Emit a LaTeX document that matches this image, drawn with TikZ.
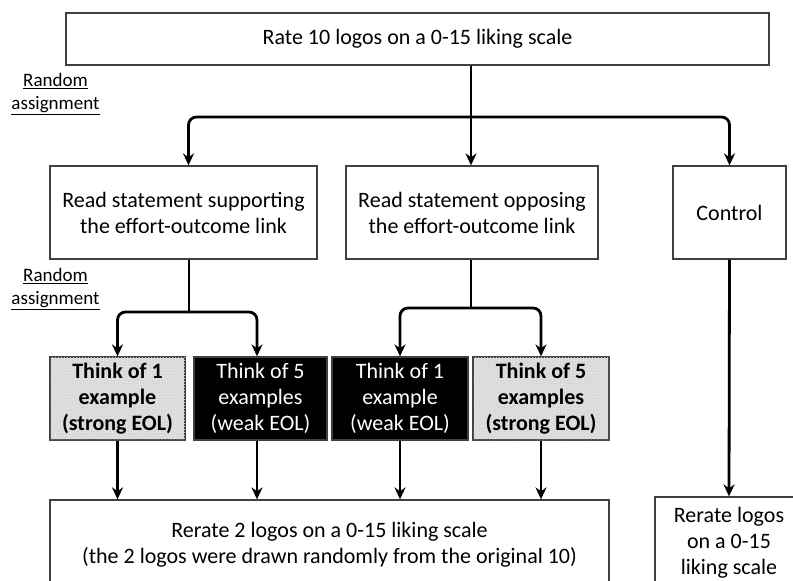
\documentclass[tikz,border=0pt]{standalone}
\usepackage{fontspec}
\setmainfont{Carlito}
\usetikzlibrary{arrows.meta,patterns}
\begin{document}
\begin{tikzpicture}[x=1pt,y=-1pt,
  box/.style={draw=black!75,line width=1.3pt,fill=white,inner sep=0pt,align=center,
    font=\fontsize{22}{26}\selectfont},
  graybox/.style={box,fill=gray!30,postaction={pattern=crosshatch dots,pattern color=white!85!gray},
    font=\fontsize{22}{26}\selectfont\bfseries},
  blackbox/.style={box,fill=black,text=white},
  arr/.style={line width=2.8pt,rounded corners=8pt,-{Stealth[length=12pt,width=11pt,inset=4pt]}},
  ln/.style={line width=2.8pt,rounded corners=8pt},
  rlabel/.style={align=center,font=\fontsize{19}{23}\selectfont,inner sep=0pt}]
\useasboundingbox (0,0) rectangle (793,581);
\clip (0,0) rectangle (793,581);
\fill[white] (0,0) rectangle (793,581);
% boxes
\node[box,minimum width=703,minimum height=52] (top) at (417.5,39) {Rate 10 logos on a 0-15 liking scale};
\node[box,minimum width=267,minimum height=93] (sup) at (183.5,212.5) {Read statement supporting\\the effort-outcome link};
\node[box,minimum width=252,minimum height=93] (opp) at (472,212.5) {Read statement opposing\\the effort-outcome link};
\node[box,minimum width=113,minimum height=93] (ctl) at (729.5,212.5) {Control};
\node[graybox,minimum width=135,minimum height=83] (t1) at (117.5,398.5) {Think of 1\\example\\(strong EOL)};
\node[blackbox,minimum width=133,minimum height=83] (t2) at (260.5,398.5) {Think of 5\\examples\\(weak EOL)};
\node[blackbox,minimum width=136,minimum height=83] (t3) at (400,398.5) {Think of 1\\example\\(weak EOL)};
\node[graybox,minimum width=136,minimum height=83] (t4) at (541,398.5) {Think of 5\\examples\\(strong EOL)};
\node[box,minimum width=559,minimum height=90] (bot) at (329.5,545) {Rerate 2 logos on a 0-15 liking scale\\(the 2 logos were drawn randomly from the original 10)};
\node[box,minimum width=148,minimum height=92] (bot2) at (729,543) {Rerate logos\\on a 0-15\\liking scale};
% labels
\node[rlabel] (ra1) at (55.5,94) {\underline{Random}\\\underline{assignment}};
\node[rlabel] (ra2) at (55.5,289) {\underline{Random}\\\underline{assignment}};
% connectors
\coordinate (h1) at (471,117);
\draw[arr] (top.south -| h1) -- (opp.north -| h1);
\draw[arr] (h1) -| ([xshift=5pt]sup.north);
\draw[arr] (h1) -| (ctl.north);
\coordinate (h2) at (189,312);
\draw[ln] (sup.south -| h2) -- (h2);
\draw[arr] (h2) -| (t1.north);
\draw[arr] (h2) -| ([xshift=-3.5pt]t2.north);
\coordinate (h3) at (471,308);
\draw[ln] (opp.south -| h3) -- (h3);
\draw[arr] (h3) -| (t3.north);
\draw[arr] (h3) -| (t4.north);
\draw[arr] (t1.south) -- (t1.south |- bot.north);
\draw[arr] ([xshift=-3.5pt]t2.south) -- ([xshift=-3.5pt]t2.south |- bot.north);
\draw[arr] (t3.south) -- (t3.south |- bot.north);
\draw[arr] (t4.south) -- (t4.south |- bot.north);
\draw[arr] (ctl.south) -- (bot2.north);
\end{tikzpicture}
\end{document}
